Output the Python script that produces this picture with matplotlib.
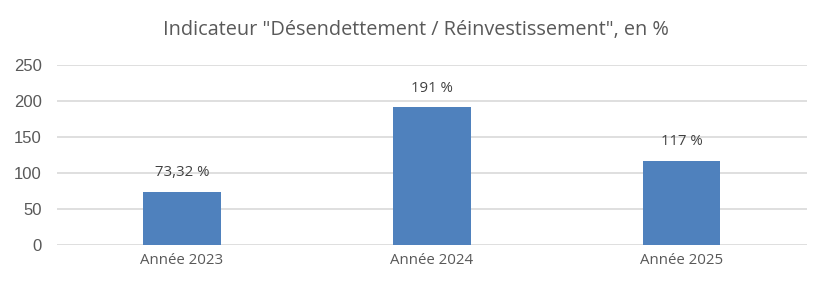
import matplotlib
matplotlib.use('Agg')
import matplotlib.pyplot as plt

categories = ['Année 2023', 'Année 2024', 'Année 2025']
values = [73.32, 191, 117]
value_labels = ['73,32 %', '191 %', '117 %']
yticks = [0, 50, 100, 150, 200, 250]

fig = plt.figure(figsize=(8.31, 2.9), dpi=100)
ax = fig.add_axes([0.0686, 0.155, 0.902, 0.621])

x = range(len(categories))
ax.bar(x, values, width=0.31, color='#4f81bd', zorder=3)
ax.set_xlim(-0.5, 2.5)
ax.set_ylim(0, 250)
ax.set_yticks(yticks)
ax.set_xticks(list(x))
ax.set_xticklabels(categories, fontsize=10.8, color='#595959', family='Open Sans')
ax.tick_params(axis='y', labelsize=12, labelcolor='#595959', length=0, pad=11)
ax.tick_params(axis='x', length=0, pad=6)
for lbl in ax.get_yticklabels():
    lbl.set_family('Liberation Sans')

ax.grid(axis='y', color='#d9d9d9', linewidth=1.2, zorder=0)
for s in ax.spines.values():
    s.set_visible(False)

for i, v in enumerate(values):
    ax.annotate(value_labels[i], (i, v), xytext=(0, 14), textcoords='offset points',
                ha='center', va='center', fontsize=10.8, color='#404040', family='Open Sans')

fig.text(0.5, 0.895, 'Indicateur "Désendettement / Réinvestissement", en %',
         ha='center', va='center', fontsize=14.3, color='#595959', family='Open Sans')

fig.savefig('out.png', dpi=100)
